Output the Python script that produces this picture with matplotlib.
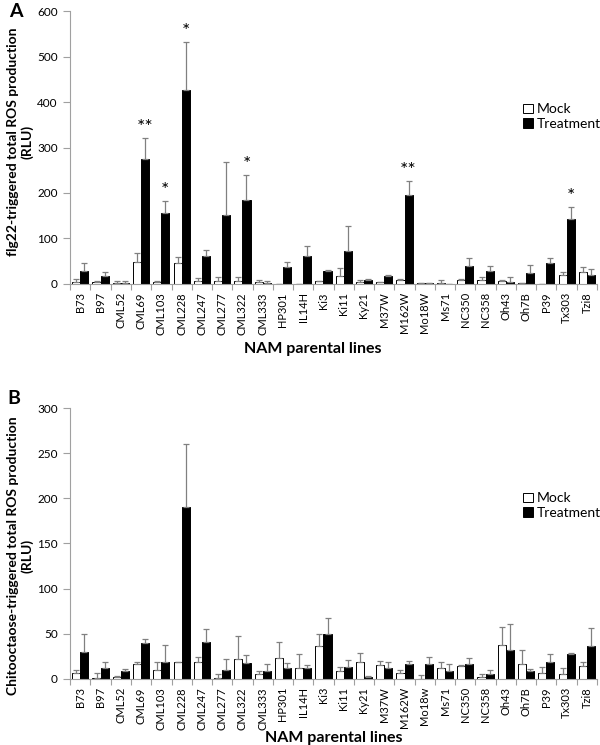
import numpy as np
import matplotlib.pyplot as plt

plt.rcParams['font.family'] = ['Lato', 'DejaVu Sans']

lines_a = ["B73", "B97", "CML52", "CML69", "CML103", "CML228", "CML247", "CML277",
           "CML322", "CML333", "HP301", "IL14H", "Ki3", "Ki11", "Ky21", "M37W",
           "M162W", "Mo18W", "Ms71", "NC350", "NC358", "Oh43", "Oh7B", "P39",
           "Tx303", "Tzi8"]
lines_b = ["B73", "B97", "CML52", "CML69", "CML103", "CML228", "CML247", "CML277",
           "CML322", "CML333", "HP301", "IL14H", "Ki3", "Ki11", "Ky21", "M37W",
           "M162W", "Mo18w", "Ms71", "NC350", "NC358", "Oh43", "Oh7B", "P39",
           "Tx303", "Tzi8"]

# panel A: flg22
mock_a = [5, 5, 2, 47, 3, 45, 7, 7, 7, 3, 0, 0, 6, 18, 4, 4, 8, 2, 2, 9, 8, 7, 2, 0, 19, 25]
mock_a_err = [5, 2, 4, 20, 4, 14, 6, 7, 7, 5, 0, 0, 0, 16, 5, 0, 2, 0, 6, 1, 7, 1, 0, 0, 7, 11]
treat_a = [29, 17, 1, 275, 155, 427, 61, 152, 185, 1, 36, 62, 29, 73, 8, 18, 196, 1, 0.5, 40, 28, 4, 23, 45, 143, 20]
treat_a_err = [16, 8, 6, 45, 27, 105, 14, 116, 55, 5, 11, 21, 2, 54, 2, 2, 30, 0, 0, 16, 12, 12, 18, 11, 25, 13]
stars_a = {3: "**", 4: "*", 5: "*", 8: "*", 16: "**", 24: "*"}

# panel B: chitooctaose
mock_b = [6, 1, 2, 16, 10, 18, 18, 1, 22, 5, 23, 12, 36, 8, 18, 15, 6.5, 0, 12, 14, 2, 37, 16, 6, 5, 14.5]
mock_b_err = [4, 5, 1, 3, 9, 0.5, 6, 4, 25, 4, 18, 15, 14, 5, 11, 5, 3.5, 4, 6, 1, 3, 20, 16, 7, 7, 4]
treat_b = [30, 12, 8, 40, 18, 191, 41, 10, 17, 9, 12, 12, 50, 13, 1.5, 12, 16, 16, 9, 16, 5, 32, 8, 19, 27.5, 36]
treat_b_err = [20, 6, 3, 4, 19, 69, 14, 12, 9, 7, 5, 3, 17, 8, 1.5, 6, 4, 8, 7, 7, 5, 29, 3, 8, 1.5, 20]


def panel(ax, labels, mock, mock_err, treat, treat_err, ymax, step, ylabel,
          ylab_y, xlab_xy, leg_y, stars=None):
    x = np.arange(len(labels))
    w = 0.4
    ekw = dict(ecolor='#808080', elinewidth=0.9, capsize=2.5, capthick=0.9)
    ax.bar(x - w / 2, mock, w, color='white', edgecolor='black', linewidth=0.7,
           yerr=[np.zeros(len(x)), mock_err], error_kw=ekw, label='Mock')
    ax.bar(x + w / 2, treat, w, color='black', edgecolor='black', linewidth=0.7,
           yerr=[np.zeros(len(x)), treat_err], error_kw=ekw, label='Treatment')
    if stars:
        for i, s in stars.items():
            ax.text(i + w / 2, treat[i] + treat_err[i] + ymax * 0.008, s,
                    ha='center', va='bottom', fontsize=14)
    ax.set_xlim(-0.5, len(labels) - 0.5)
    ax.set_ylim(0, ymax)
    ax.set_yticks(np.arange(0, ymax + 1, step))
    ax.set_xticks(x)
    ax.set_xticklabels(labels, rotation=90, fontsize=8)
    ax.set_xticks(np.arange(-0.5, len(labels)), minor=True)
    ax.tick_params(axis='x', which='major', length=0, pad=6)
    ax.tick_params(axis='x', which='minor', length=4, color='#a0a0a0', width=0.8)
    ax.tick_params(axis='y', length=5, color='#a0a0a0', width=0.8, labelsize=8.5, pad=4)
    for s in ['top', 'right']:
        ax.spines[s].set_visible(False)
    for s in ['left', 'bottom']:
        ax.spines[s].set_color('#a0a0a0')
        ax.spines[s].set_linewidth(0.8)
    ax.set_xlabel('NAM parental lines', fontsize=11.5, fontweight='bold')
    ax.xaxis.set_label_coords(*xlab_xy)
    ax.set_ylabel(ylabel, fontsize=10, fontweight='bold', linespacing=1.2)
    ax.yaxis.set_label_coords(-0.07, ylab_y)
    ax.legend(loc='center left', bbox_to_anchor=(0.86, leg_y), frameon=False,
              fontsize=10, handlelength=0.7, handleheight=0.7, handletextpad=0.3,
              labelspacing=0.2, borderpad=0, borderaxespad=0)


fig = plt.figure(figsize=(6, 7.45), dpi=100)
ax1 = fig.add_axes([0.117, 0.619, 0.878, 0.366])
ax2 = fig.add_axes([0.117, 0.089, 0.878, 0.363])

panel(ax1, lines_a, mock_a, mock_a_err, treat_a, treat_a_err, 600, 100,
      'flg22-triggered total ROS production\n(RLU)', 0.52, (0.46, -0.212), 0.613, stars_a)
panel(ax2, lines_b, mock_b, mock_b_err, treat_b, treat_b_err, 300, 50,
      'Chitooctaose-triggered total ROS production\n(RLU)', 0.455, (0.5, -0.192), 0.64)

fig.text(0.015, 0.984, 'A', fontsize=14, fontweight='bold', va='center')
fig.text(0.012, 0.465, 'B', fontsize=14, fontweight='bold', va='center')

fig.savefig('out.png', dpi=100)
